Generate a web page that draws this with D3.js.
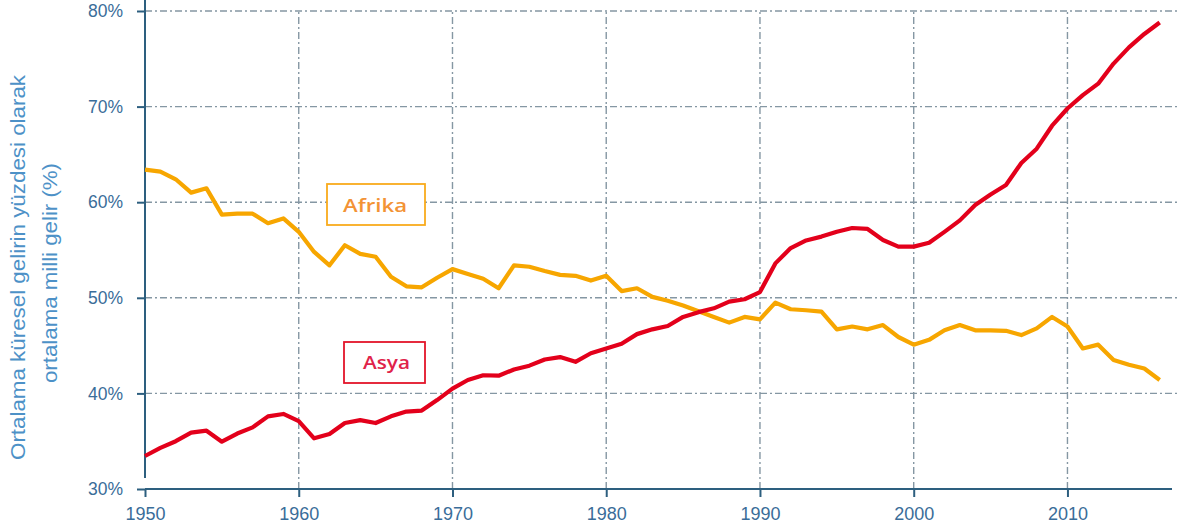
<!DOCTYPE html>
<html><head><meta charset="utf-8">
<script src="https://cdn.jsdelivr.net/npm/d3@7"></script>
<style>body{margin:0;background:#fff}svg{display:block}text{font-family:"Liberation Sans",Arial,sans-serif}</style>
</head><body>
<svg id="c" width="1177" height="532"></svg>
<script>
const years = d3.range(1950, 2017);
const afrika = [63.4,63.2,62.4,61.0,61.45,58.7,58.8,58.8,57.8,58.3,
56.9,54.8,53.4,55.5,54.6,54.3,52.2,51.2,51.1,52.1,
53.0,52.5,52.0,51.0,53.4,53.25,52.8,52.4,52.3,51.8,
52.3,50.7,51.0,50.1,49.7,49.2,48.6,48.0,47.4,48.0,
47.75,49.5,48.8,48.7,48.55,46.7,47.0,46.7,47.15,45.9,
45.1,45.6,46.6,47.15,46.6,46.6,46.55,46.1,46.8,48.0,
47.0,44.7,45.1,43.5,43.0,42.6,41.4];
const asya = [33.45,34.3,35.0,35.9,36.1,34.95,35.8,36.45,37.6,37.85,
37.1,35.3,35.75,36.9,37.2,36.9,37.6,38.1,38.2,39.3,
40.5,41.4,41.9,41.85,42.5,42.9,43.55,43.8,43.3,44.2,
44.7,45.2,46.2,46.7,47.05,48.0,48.5,48.9,49.6,49.85,
50.6,53.6,55.2,56.0,56.4,56.9,57.3,57.2,56.05,55.35,
55.35,55.75,56.9,58.1,59.7,60.8,61.8,64.1,65.6,68.0,
69.8,71.2,72.4,74.5,76.2,77.6,78.8];
const xTicks = [1950,1960,1970,1980,1990,2000,2010];
const yTicks = [30,40,50,60,70,80];
const seriesNames = ["Afrika","Asya"];
const yTitle = ["Ortalama küresel gelirin yüzdesi olarak","ortalama milli gelir (%)"];

const svg = d3.select("#c");
const x = d3.scaleLinear().domain([1950, 2016.8]).range([145, 1172]);
const y = d3.scaleLinear().domain([30, 80]).range([489, 11]);
const gridCol = "#8597a3", axisCol = "#2d5f7f", labCol = "#3a6d99";

// grid
svg.append("g").selectAll("line").data(yTicks.filter(d=>d>30)).join("line")
  .attr("x1", 145).attr("x2", 1177).attr("y1", d=>y(d)).attr("y2", d=>y(d))
  .attr("stroke", gridCol).attr("stroke-width", 1.4).attr("stroke-dasharray", "7,3,2,3");
svg.append("g").selectAll("line").data(xTicks.filter(d=>d>1950)).join("line")
  .attr("x1", d=>x(d)).attr("x2", d=>x(d)).attr("y1", y(30)).attr("y2", y(80))
  .attr("stroke", gridCol).attr("stroke-width", 1.4).attr("stroke-dasharray", "7,3,2,3");

// axes
const ya = svg.append("g").attr("transform","translate(145,0)")
  .call(d3.axisLeft(y).tickValues(yTicks).tickFormat(d=>d+"%").tickSize(8).tickPadding(14));
const xa = svg.append("g").attr("transform",`translate(0,${y(30)})`)
  .call(d3.axisBottom(x).tickValues(xTicks).tickFormat(d3.format("d")).tickSize(8).tickPadding(10));
[ya, xa].forEach(a=>{
  a.select(".domain").attr("stroke", axisCol).attr("stroke-width", 2);
  a.selectAll(".tick line").attr("stroke", axisCol).attr("stroke-width", 2);
  a.selectAll(".tick text").attr("fill", labCol).attr("font-size", 17.5);
});
xa.selectAll(".tick text").attr("font-size", 18);
xa.select(".domain").attr("d", "M145,0H1172");
ya.select(".domain").attr("d", "M0,478V0");

// title
svg.append("text").attr("transform","translate(25,267.5) rotate(-90)")
  .attr("text-anchor","middle").attr("fill","#4d91c7").attr("font-size",20)
  .attr("textLength",385).attr("lengthAdjust","spacingAndGlyphs").text(yTitle[0]);
svg.append("text").attr("transform","translate(57,273) rotate(-90)")
  .attr("text-anchor","middle").attr("fill","#4d91c7").attr("font-size",20)
  .attr("textLength",220).attr("lengthAdjust","spacingAndGlyphs").text(yTitle[1]);

// lines
const line = d3.line().x((d,i)=>x(years[i])).y(d=>y(d)).curve(d3.curveLinear);
svg.append("path").datum(afrika).attr("d", line).attr("fill","none")
  .attr("stroke","#f7a600").attr("stroke-width",4.2).attr("stroke-linejoin","round");
svg.append("path").datum(asya).attr("d", line).attr("fill","none")
  .attr("stroke","#e3001b").attr("stroke-width",4.2).attr("stroke-linejoin","round");

// labels
function label(txt, bx, by, w, h, stroke, fill, tx, tw, base){
  svg.append("rect").attr("x",bx).attr("y",by).attr("width",w).attr("height",h)
    .attr("fill","#fff").attr("stroke",stroke).attr("stroke-width",1.8);
  svg.append("text").attr("x",tx).attr("y",base).attr("text-anchor","middle")
    .attr("fill",fill).attr("font-size",18).attr("font-weight",600)
    .attr("textLength",tw).attr("lengthAdjust","spacingAndGlyphs")
    .style("font-family","'Open Sans',sans-serif").text(txt);
}
label(seriesNames[0], 327, 184, 98, 41, "#f9ab1c", "#f39335", 375, 64, 211.5);
label(seriesNames[1], 344, 342, 81, 41, "#e3142a", "#e0234a", 386.5, 47, 368.5);
</script>
</body></html>
